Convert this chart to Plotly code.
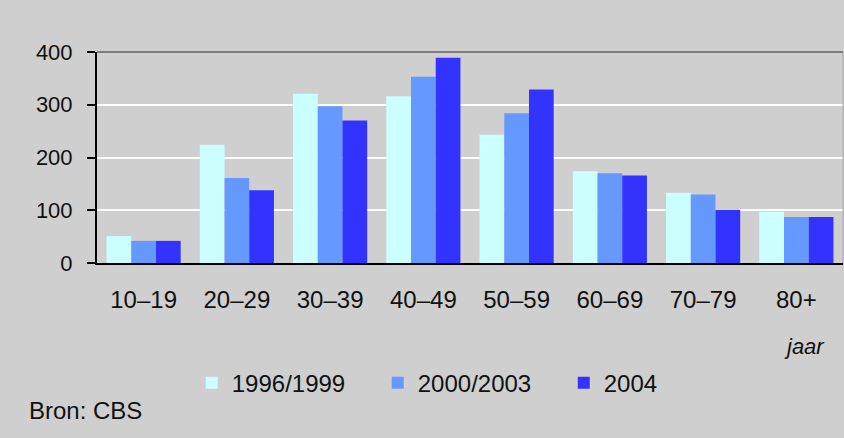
import plotly.graph_objects as go

# Age groups and counts per period
age_groups = ["10–19", "20–29", "30–39", "40–49", "50–59", "60–69", "70–79", "80+"]
series_names = ["1996/1999", "2000/2003", "2004"]
v_1996_1999 = [51, 224, 321, 316, 243, 174, 133, 97]
v_2000_2003 = [42, 161, 297, 353, 284, 170, 130, 87]
v_2004 = [42, 138, 270, 389, 329, 166, 101, 87]
y_ticks = [0, 100, 200, 300, 400]

colors = ["#ccffff", "#6699ff", "#3333ff"]
values = [v_1996_1999, v_2000_2003, v_2004]

FONT = "Liberation Sans, Arial, sans-serif"
BG = "#cfcfcf"

fig = go.Figure()
for name, vals, col in zip(series_names, values, colors):
    fig.add_trace(go.Bar(
        x=age_groups, y=vals, name=name,
        marker=dict(color=col, line=dict(width=0)),
    ))

fig.update_layout(
    width=844, height=438,
    margin=dict(l=97, r=1, t=52, b=175),
    paper_bgcolor=BG, plot_bgcolor=BG,
    barmode="group", bargap=0.205, bargroupgap=0,
    font=dict(family=FONT, color="#111111"),
    showlegend=True,
    legend=dict(
        orientation="h", x=0.127, xanchor="left", y=-0.57, yanchor="middle",
        font=dict(size=24, color="#111111"),
        bgcolor="rgba(0,0,0,0)", itemwidth=30, entrywidth=141,
        traceorder="normal",
    ),
    xaxis=dict(
        showgrid=False, showline=True, linecolor="#000000", linewidth=2,
        ticks="", tickfont=dict(size=24), ticklabelstandoff=14,
        fixedrange=True,
    ),
    yaxis=dict(
        range=[0, 400], tickvals=y_ticks, showgrid=True, gridcolor="#ffffff",
        gridwidth=2, zeroline=False, showline=True, linecolor="#000000",
        linewidth=2, ticks="outside", ticklen=8, tickwidth=2, tickcolor="#000000",
        tickfont=dict(size=22), ticklabelstandoff=10, fixedrange=True,
    ),
    shapes=[
        dict(type="line", xref="paper", yref="paper", x0=0, x1=1, y0=1, y1=1,
             line=dict(color="#606060", width=1.5)),
        dict(type="line", xref="paper", yref="paper", x0=1, x1=1, y0=0, y1=1,
             line=dict(color="#a8a8a8", width=1)),
    ],
    annotations=[
        dict(text="<i>jaar</i>", xref="paper", yref="paper", x=0.948, y=-0.395,
             xanchor="center", yanchor="middle", showarrow=False,
             font=dict(size=22, color="#111111")),
        dict(text="Bron: CBS", xref="paper", yref="paper", x=-0.094, y=-0.70,
             xanchor="left", yanchor="middle", showarrow=False,
             font=dict(size=24, color="#111111")),
    ],
)

fig.write_html("out.html")
